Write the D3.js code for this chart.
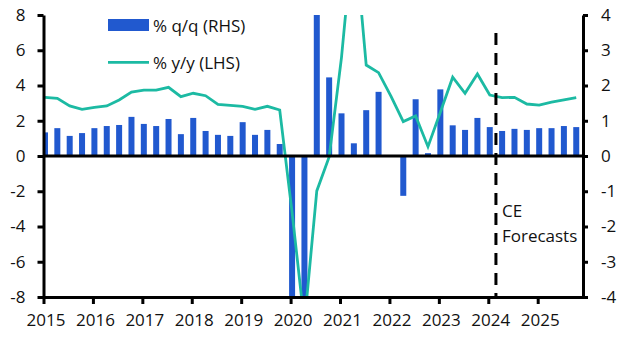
<!DOCTYPE html>
<html>
<head>
<meta charset="utf-8">
<script src="https://cdn.jsdelivr.net/npm/d3@7"></script>
<style>
  body { margin: 0; background: #fff; }
  #chart text { font-family: 'Open Sans', sans-serif; font-size: 17px; fill: #111; }
</style>
</head>
<body>
<div id="chart"></div>
<script>
(function(d3) {
  'use strict';

  // quarterly categories, 2015 Q1 to 2025 Q4
  var quarters = [
    '2015Q1','2015Q2','2015Q3','2015Q4','2016Q1','2016Q2','2016Q3','2016Q4',
    '2017Q1','2017Q2','2017Q3','2017Q4','2018Q1','2018Q2','2018Q3','2018Q4',
    '2019Q1','2019Q2','2019Q3','2019Q4','2020Q1','2020Q2','2020Q3','2020Q4',
    '2021Q1','2021Q2','2021Q3','2021Q4','2022Q1','2022Q2','2022Q3','2022Q4',
    '2023Q1','2023Q2','2023Q3','2023Q4','2024Q1','2024Q2','2024Q3','2024Q4',
    '2025Q1','2025Q2','2025Q3','2025Q4'
  ];

  // % q/q, right-hand axis
  var qoq = [
    0.67, 0.79, 0.57, 0.65, 0.79, 0.85, 0.88, 1.11,
    0.91, 0.85, 1.05, 0.62, 1.08, 0.71, 0.60, 0.57,
    0.96, 0.60, 0.74, 0.34, -4.9, -5.7, 8.3, 2.23,
    1.21, 0.36, 1.30, 1.82, 0.0, -1.13, 1.61, 0.08,
    1.89, 0.87, 0.74, 1.08, 0.82, 0.71, 0.77, 0.74,
    0.79, 0.79, 0.85, 0.82
  ];

  // % y/y, left-hand axis
  var yoy = [
    3.33, 3.27, 2.84, 2.65, 2.76, 2.84, 3.18, 3.63,
    3.74, 3.74, 3.90, 3.37, 3.56, 3.42, 2.93, 2.87,
    2.82, 2.65, 2.82, 2.61, -3.2, -9.5, -1.98, -0.05,
    5.6, 13.0, 5.16, 4.73, 3.4, 1.95, 2.27, 0.53,
    2.48, 4.47, 3.56, 4.65, 3.46, 3.31, 3.33, 2.95,
    2.89, 3.05, 3.18, 3.31
  ];

  var leftTicks = [-8, -6, -4, -2, 0, 2, 4, 6, 8];
  var rightTicks = [-4, -3, -2, -1, 0, 1, 2, 3, 4];
  var yearTicks = [2015, 2016, 2017, 2018, 2019, 2020, 2021, 2022, 2023, 2024, 2025];
  var forecastStart = '2024Q2';

  var width = 634;
  var height = 347;
  var left = 43.5, right = 583, top = 15, bottom = 297;
  var barWidth = 6;

  var inkBlue = '#2159cf';
  var teal = '#1cbaa3';

  // decimal year for a quarter label, placed a fortnight into the quarter
  function qTime(q) {
    return +q.slice(0, 4) + (+q.slice(5) - 1) / 4 + 0.03;
  }

  var x = d3.scaleLinear().domain([2015, 2025 + 11 / 12]).range([left, right]);
  var yL = d3.scaleLinear().domain([-8, 8]).range([bottom, top]);
  var yR = d3.scaleLinear().domain([-4, 4]).range([bottom, top]);

  var dataset = quarters.map(function(q, i) {
    return { q: q, t: qTime(q), qoq: qoq[i], yoy: yoy[i] };
  });

  var svg = d3.select('#chart')
    .append('svg')
    .attr('width', width)
    .attr('height', height);

  svg.append('clipPath').attr('id', 'plotClip')
    .append('rect')
    .attr('x', left).attr('y', top)
    .attr('width', right - left).attr('height', bottom - top);

  var plot = svg.append('g').attr('clip-path', 'url(#plotClip)');

  plot.selectAll('.bar')
    .data(dataset)
    .enter()
    .append('rect')
    .attr('class', 'bar')
    .attr('x', function(d) { return x(d.t) - barWidth / 2; })
    .attr('width', barWidth)
    .attr('y', function(d) { return Math.min(yR(d.qoq), yR(0)); })
    .attr('height', function(d) { return Math.abs(yR(d.qoq) - yR(0)); })
    .attr('fill', inkBlue);

  var line = d3.line()
    .x(function(d) { return x(d.t); })
    .y(function(d) { return yL(d.yoy); });

  plot.append('path')
    .datum(dataset)
    .attr('d', line)
    .attr('fill', 'none')
    .attr('stroke', teal)
    .attr('stroke-width', 2.8)
    .attr('stroke-linejoin', 'miter');

  // zero line
  svg.append('line')
    .attr('x1', left).attr('x2', right)
    .attr('y1', yL(0)).attr('y2', yL(0))
    .attr('stroke', '#000').attr('stroke-width', 3);

  // axes
  function styleAxis(g) {
    g.select('.domain').attr('stroke', '#000').attr('stroke-width', 3);
    g.selectAll('.tick line').attr('stroke', '#000').attr('stroke-width', 3);
    g.selectAll('.tick text').attr('font-family', null).attr('font-size', null);
  }

  var axisL = d3.axisLeft(yL)
    .tickValues(leftTicks)
    .tickFormat(function(d) { return String(d); })
    .tickSize(6).tickSizeOuter(0).tickPadding(12);

  var axisR = d3.axisRight(yR)
    .tickValues(rightTicks)
    .tickFormat(function(d) { return String(d); })
    .tickSize(5).tickSizeOuter(0).tickPadding(13);

  var axisB = d3.axisBottom(x)
    .tickValues(yearTicks)
    .tickFormat(function(d) { return String(d); })
    .tickSize(7).tickSizeOuter(0).tickPadding(10);

  svg.append('g')
    .attr('transform', 'translate(0,' + bottom + ')')
    .call(axisB)
    .call(styleAxis)
    .selectAll('.tick text').attr('dx', 2);

  svg.append('g')
    .attr('transform', 'translate(' + left + ',0)')
    .call(axisL)
    .call(styleAxis);

  svg.append('g')
    .attr('transform', 'translate(' + right + ',0)')
    .call(axisR)
    .call(styleAxis);

  // forecast marker
  var fx = (x(qTime(forecastStart)) + x(qTime(forecastStart) - 0.25)) / 2;
  svg.append('line')
    .attr('x1', fx).attr('x2', fx)
    .attr('y1', 33).attr('y2', bottom)
    .attr('stroke', '#000').attr('stroke-width', 3)
    .attr('stroke-dasharray', '12,8');

  var note = svg.append('text')
    .attr('x', fx + 6)
    .attr('y', 217);
  note.append('tspan').attr('x', fx + 6).text('CE');
  note.append('tspan').attr('x', fx + 6).attr('dy', 25).text('Forecasts');

  // legend
  var legendContainer = svg.append('g').attr('class', 'legendContainer')
    .attr('transform', 'translate(108,0)');

  legendContainer.append('rect')
    .attr('x', 0).attr('y', 19)
    .attr('width', 41).attr('height', 12)
    .attr('fill', inkBlue);
  legendContainer.append('text')
    .attr('x', 45).attr('y', 31.5)
    .text('% q/q (RHS)');

  legendContainer.append('line')
    .attr('x1', 0).attr('x2', 41)
    .attr('y1', 62.3).attr('y2', 62.3)
    .attr('stroke', teal).attr('stroke-width', 2.8);
  legendContainer.append('text')
    .attr('x', 45).attr('y', 68.5)
    .text('% y/y (LHS)');

})(window.d3);
</script>
</body>
</html>
